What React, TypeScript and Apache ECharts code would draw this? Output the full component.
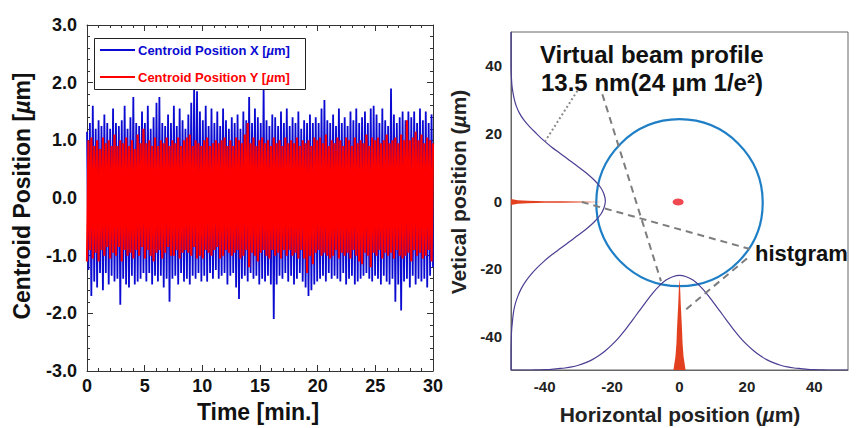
import React, { useEffect, useRef } from "react";
import * as echarts from "echarts";

// ---------- Left chart: centroid position vs time ----------
const TIME_MAX = 30;
const X_VALUES = [
  1.15, -1.25, 1.3, -1.7, 1.6, -1.45, 1.2, -1.55, 1.35, -1.3,
  1.25, -1.6, 1.45, -1.3, 1.3, -1.5, 1.2, -1.35, 1.55, -1.45,
  1.3, -1.4, 1.25, -1.85, 1.35, -1.4, 1.6, -1.5, 1.2, -1.55,
  1.4, -1.35, 1.75, -1.5, 1.3, -1.45, 1.25, -1.4, 1.5, -1.3,
  1.3, -1.45, 1.6, -1.3, 1.2, -1.5, 1.4, -1.35, 1.65, -1.45,
  1.75, -1.35, 1.3, -1.55, 1.25, -1.4, 1.45, -1.8, 1.3, -1.4,
  1.6, -1.35, 1.25, -1.5, 1.55, -1.3, 1.35, -1.45, 1.2, -1.4,
  1.45, -1.5, 1.65, -1.35, 1.9, -1.4, 1.85, -1.3, 1.5, -1.45,
  1.35, -1.35, 1.6, -1.45, 1.25, -1.3, 1.55, -1.4, 1.3, -1.25,
  1.5, -1.4, 1.25, -1.35, 1.55, -1.3, 1.35, -1.5, 1.2, -1.35,
  1.4, -1.3, 1.3, -1.55, 1.45, -1.75, 1.2, -1.4, 1.5, -1.35,
  1.35, -1.45, 1.75, -1.3, 1.3, -1.4, 1.55, -1.35, 1.4, -1.5,
  1.3, -1.4, 1.9, -1.45, 1.35, -1.35, 1.25, -1.5, 1.45, -2.1,
  1.4, -1.5, 1.25, -1.35, 1.5, -1.4, 1.3, -1.3, 1.55, -1.45,
  1.25, -1.35, 1.4, -1.5, 1.3, -1.4, 1.5, -1.3, 1.2, -1.45,
  1.35, -1.55, 1.3, -1.7, 1.45, -1.6, 1.3, -1.5, 1.4, -1.45,
  1.3, -1.4, 1.55, -1.35, 1.7, -1.45, 1.35, -1.3, 1.3, -1.4,
  1.45, -1.35, 1.25, -1.4, 1.55, -1.45, 1.3, -1.3, 1.4, -1.5,
  1.25, -1.4, 1.5, -1.35, 1.35, -1.5, 1.55, -1.45, 1.3, -1.4,
  1.4, -1.35, 1.5, -1.3, 1.3, -1.4, 1.55, -1.45, 1.6, -1.35,
  1.45, -1.4, 1.3, -1.5, 1.55, -1.35, 1.35, -1.45, 1.25, -1.5,
  1.9, -1.4, 1.45, -1.8, 1.3, -1.5, 1.4, -1.95, 1.5, -1.45,
  1.35, -1.4, 1.5, -1.55, 1.4, -1.35, 1.5, -1.5, 1.3, -1.4,
  1.55, -1.45, 1.35, -1.4, 1.5, -1.55, 1.3, -1.35, 1.45, -1.2,
];
const Y_VALUES = [
  -1.1, 1.0, -0.9, 1.05, -1.05, 0.9, -0.95, 1.0, -1.1, 0.85,
  -0.9, 1.05, -1.0, 0.95, -0.85, 1.0, -1.05, 0.9, -0.95, 1.1,
  -1.0, 0.9, -0.85, 1.0, -1.1, 0.95, -0.9, 1.05, -1.0, 0.9,
  -0.95, 1.0, -1.05, 0.85, -0.9, 1.1, -1.0, 0.95, -0.85, 1.2,
  -1.05, 0.95, -0.9, 1.0, -1.0, 0.9, -1.1, 1.05, -0.95, 0.9,
  -0.9, 1.0, -1.05, 0.95, -0.95, 1.05, -0.85, 0.9, -1.0, 1.0,
  -1.0, 0.95, -0.9, 1.05, -1.05, 0.9, -0.95, 1.0, -0.9, 1.05,
  -0.95, 1.1, -1.0, 0.9, -0.85, 1.0, -1.05, 0.95, -1.0, 0.9,
  -1.05, 1.0, -0.9, 1.05, -0.95, 0.9, -1.0, 0.95, -0.9, 1.0,
  -0.85, 0.95, -1.05, 1.0, -1.0, 1.05, -0.9, 0.9, -0.95, 1.0,
  -1.0, 0.9, -0.95, 1.05, -0.9, 1.0, -1.05, 0.95, -1.0, 1.1,
  -0.9, 1.3, -1.2, 0.95, -0.95, 1.05, -1.0, 0.9, -1.1, 1.0,
  -0.95, 1.05, -0.9, 0.95, -1.0, 1.0, -1.05, 0.9, -0.9, 1.05,
  -1.0, 0.95, -0.95, 1.0, -1.05, 0.9, -0.9, 1.05, -1.0, 0.95,
  -0.9, 1.0, -1.0, 0.95, -0.95, 1.05, -1.05, 0.9, -0.9, 1.0,
  -1.05, 0.95, -1.3, 1.0, -1.0, 0.9, -1.15, 1.05, -0.95, 1.0,
  -0.9, 1.05, -1.0, 0.95, -0.95, 1.1, -1.0, 0.9, -1.05, 1.0,
  -1.0, 0.95, -0.9, 1.05, -1.05, 1.0, -0.95, 0.9, -1.0, 1.05,
  -0.95, 1.0, -1.05, 0.9, -0.9, 1.05, -1.0, 0.95, -1.1, 1.0,
  -1.15, 0.95, -0.95, 1.1, -1.0, 0.9, -1.2, 1.05, -0.95, 1.0,
  -1.0, 1.05, -0.9, 0.95, -1.05, 1.0, -0.95, 1.1, -1.0, 0.95,
  -0.95, 1.0, -1.05, 1.05, -0.9, 0.95, -1.0, 1.1, -1.05, 1.0,
  -1.0, 1.35, -0.95, 1.0, -1.1, 1.05, -0.9, 1.15, -1.0, 1.0,
  -0.95, 1.1, -1.05, 0.95, -1.0, 1.05, -0.9, 1.0, -1.1, 0.95,
];

// ---------- Right chart: virtual beam profile ----------
const PROFILE_POS = [
  -50, -48, -46, -44, -42, -40, -38, -36, -34, -32, -30, -28, -26, -24, -22, -20, -18,
  -16, -14, -12, -10, -8, -6, -4, -2, 0, 2, 4, 6, 8, 10, 12, 14, 16, 18, 20, 22, 24, 26,
  28, 30, 32, 34, 36, 38, 40, 42, 44, 46, 48, 50,
];
// horizontal position of the vertical-profile curve at each vertical position
const LEFT_PROFILE = [
  -50, -50, -50, -50, -49.95, -49.9, -49.8, -49.6, -49.4, -49.1, -48.6, -47.9, -47.0,
  -45.8, -44.3, -42.5, -40.4, -38.0, -35.3, -32.6, -29.9, -27.3, -25.1, -23.4, -22.4,
  -22.0, -22.4, -23.4, -25.1, -27.3, -29.9, -32.6, -35.3, -38.0, -40.4, -42.5, -44.5,
  -46.2, -47.5, -48.4, -49.0, -49.4, -49.7, -49.85, -49.95, -50, -50, -50, -50, -50, -50,
];
// vertical position of the horizontal-profile curve at each horizontal position
const BOTTOM_PROFILE = [
  -50, -50, -50, -50, -49.95, -49.9, -49.8, -49.6, -49.4, -49.1, -48.6, -47.9, -47.0,
  -45.8, -44.3, -42.5, -40.4, -38.0, -35.3, -32.6, -29.9, -27.3, -25.1, -23.4, -22.4,
  -22.0, -22.4, -23.4, -25.1, -27.3, -29.9, -32.6, -35.3, -38.0, -40.4, -42.5, -44.3,
  -45.8, -47.0, -47.9, -48.6, -49.1, -49.4, -49.6, -49.8, -49.9, -49.95, -50, -50, -50, -50,
];
// histogram spikes: position along the spike and its half width
const H_SPIKE_POS = [-50, -48, -45, -40, -35, -30, -26, -23];
const H_SPIKE_HALF = [0.9, 0.55, 0.35, 0.25, 0.2, 0.15, 0.1, 0];
const H_SPIKE_CENTER = -0.3;
const V_SPIKE_POS = [-50, -46, -42, -38, -34, -30, -26, -23];
const V_SPIKE_HALF = [1.8, 1.2, 0.9, 0.75, 0.55, 0.35, 0.2, 0];
const V_SPIKE_CENTER = 0;
const BEAM_CIRCLE = [[0, -0.5, 24.7]];
const CENTROID_SPOT = [[-0.4, -0.3]];
const DOTTED_LEADER = [[-30.3, 32.6], [-39.8, 17.8]];
const DASHED_LEADER_A = [[-22.9, 31.6], [-5.5, -23.7]];
const DASHED_LEADER_B = [[-29, -0.3], [20.9, -14.2]];
const DASHED_LEADER_C = [[2, -32], [20.9, -16.3]];

const SANS = "'Liberation Sans', Arial, sans-serif";

export default function App() {
  const ref = useRef<HTMLDivElement>(null);
  useEffect(() => {
    if (!ref.current) return;
    const chart = echarts.init(ref.current, null, { renderer: "svg" });
    const n = X_VALUES.length;
    const times = X_VALUES.map((_, i) => (i * TIME_MAX) / (n - 1));
    const leftAxisLine = { onZero: false, lineStyle: { color: "#333", width: 1 } };
    const rightAxisLine = { onZero: false, lineStyle: { color: "#666", width: 1 } };
    const tickCommon = { show: true, inside: true, length: 6, lineStyle: { color: "#333" } };
    const minorCommon = { show: true, splitNumber: 5, length: 3, lineStyle: { color: "#333" } };
    const rightLabel = {
      margin: 9, fontFamily: SANS, fontWeight: "bold", fontSize: 15, color: "#222",
      formatter: (v: number) => (v % 20 === 0 && Math.abs(v) < 50 ? String(v) : ""),
    };
    const spikeRender = (pos: number[], half: number[], center: number, vertical: boolean, color: string) =>
      (params: any, api: any) => {
        if (params.dataIndex !== 0) return null;
        const pts: number[][] = [];
        for (let i = 0; i < pos.length; i++) {
          pts.push(api.coord(vertical ? [center + half[i], pos[i]] : [pos[i], center + half[i]]));
        }
        for (let i = pos.length - 1; i >= 0; i--) {
          pts.push(api.coord(vertical ? [center - half[i], pos[i]] : [pos[i], center - half[i]]));
        }
        return { type: "polygon", shape: { points: pts }, style: { fill: color } };
      };
    const leader = (data: number[][], type: any, color: string) => ({
      type: "line",
      xAxisIndex: 2,
      yAxisIndex: 2,
      data,
      showSymbol: false,
      symbol: "none",
      silent: true,
      lineStyle: { color, width: 2, type },
      z: 5,
    });
    chart.setOption({
      animation: false,
      backgroundColor: "#fff",
      grid: [
        { left: 87, top: 25, width: 346, height: 346 },
        { left: 511, top: 32, width: 337, height: 338, show: true, borderColor: "#666", borderWidth: 1, backgroundColor: "transparent" },
      ],
      xAxis: [
        {
          type: "value", gridIndex: 0, min: 0, max: 30, interval: 5,
          axisLine: leftAxisLine, axisTick: tickCommon, minorTick: minorCommon, splitLine: { show: false },
          axisLabel: { margin: 6, fontFamily: SANS, fontWeight: "bold", fontSize: 18, color: "#111" },
        },
        {
          type: "value", gridIndex: 0, position: "top", min: 0, max: 30, interval: 5,
          axisLine: leftAxisLine, axisTick: tickCommon, minorTick: minorCommon, splitLine: { show: false },
          axisLabel: { show: false },
        },
        {
          type: "value", gridIndex: 1, min: -50, max: 50, interval: 10,
          axisLine: rightAxisLine, axisTick: { show: false }, splitLine: { show: false },
          axisLabel: rightLabel,
        },
      ],
      yAxis: [
        {
          type: "value", gridIndex: 0, min: -3, max: 3, interval: 1,
          axisLine: leftAxisLine, axisTick: tickCommon, minorTick: minorCommon, splitLine: { show: false },
          axisLabel: { margin: 10, fontFamily: SANS, fontWeight: "bold", fontSize: 18, color: "#111", formatter: (v: number) => v.toFixed(1) },
        },
        {
          type: "value", gridIndex: 0, position: "right", min: -3, max: 3, interval: 1,
          axisLine: leftAxisLine, axisTick: tickCommon, minorTick: minorCommon, splitLine: { show: false },
          axisLabel: { show: false },
        },
        {
          type: "value", gridIndex: 1, min: -50, max: 50, interval: 10,
          axisLine: rightAxisLine, axisTick: { show: false }, splitLine: { show: false },
          axisLabel: rightLabel,
        },
      ],
      series: [
        {
          name: "Centroid Position X", type: "line", xAxisIndex: 0, yAxisIndex: 0,
          data: times.map((t, i) => [t, X_VALUES[i]]), showSymbol: false, symbol: "none",
          lineStyle: { color: "#0a0ad2", width: 1.8 },
        },
        {
          name: "Centroid Position Y", type: "line", xAxisIndex: 0, yAxisIndex: 0,
          data: times.map((t, i) => [t, Y_VALUES[i]]), showSymbol: false, symbol: "none",
          lineStyle: { color: "#ff0000", width: 2.2 },
        },
        {
          type: "custom", xAxisIndex: 2, yAxisIndex: 2, clip: true,
          data: BEAM_CIRCLE,
          renderItem: (params: any, api: any) => {
            const c = api.coord([api.value(0), api.value(1)]);
            const s = api.size([api.value(2), api.value(2)]);
            return { type: "ellipse", shape: { cx: c[0], cy: c[1], rx: s[0], ry: s[1] }, style: { fill: "none", stroke: "#1f7fc6", lineWidth: 2.2 } };
          },
          z: 3,
        },
        {
          type: "line", xAxisIndex: 2, yAxisIndex: 2, symbol: "none", showSymbol: false,
          data: PROFILE_POS.map((p, i) => [LEFT_PROFILE[i], p]),
          smooth: 0.3, lineStyle: { color: "#4a3f92", width: 1.2 }, z: 4,
        },
        {
          type: "line", xAxisIndex: 2, yAxisIndex: 2, symbol: "none", showSymbol: false,
          data: PROFILE_POS.map((p, i) => [p, BOTTOM_PROFILE[i]]),
          smooth: 0.3, lineStyle: { color: "#4a3f92", width: 1.2 }, z: 4,
        },
        {
          type: "custom", xAxisIndex: 2, yAxisIndex: 2, clip: true,
          data: H_SPIKE_POS.map((p, i) => [p, H_SPIKE_HALF[i]]),
          renderItem: spikeRender(H_SPIKE_POS, H_SPIKE_HALF, H_SPIKE_CENTER, false, "#e3401f"),
          z: 4,
        },
        {
          type: "custom", xAxisIndex: 2, yAxisIndex: 2, clip: true,
          data: V_SPIKE_POS.map((p, i) => [p, V_SPIKE_HALF[i]]),
          renderItem: spikeRender(V_SPIKE_POS, V_SPIKE_HALF, V_SPIKE_CENTER, true, "#e3401f"),
          z: 4,
        },
        {
          type: "scatter", xAxisIndex: 2, yAxisIndex: 2, data: CENTROID_SPOT,
          symbol: "circle", symbolSize: [11, 7], itemStyle: { color: "#ee1c25" }, z: 6,
        },
        leader(DOTTED_LEADER, [2, 2.5], "#8a8a8a"),
        leader(DASHED_LEADER_A, [7, 5], "#7d7d7d"),
        leader(DASHED_LEADER_B, [7, 5], "#7d7d7d"),
        leader(DASHED_LEADER_C, [7, 5], "#7d7d7d"),
      ],
      graphic: [
        // legend
        { type: "rect", shape: { x: 94.5, y: 38.5, width: 211, height: 51 }, style: { fill: "#fff", stroke: "#222", lineWidth: 1 }, z: 10 },
        { type: "line", shape: { x1: 100, y1: 50, x2: 135, y2: 50 }, style: { stroke: "#0a0ad2", lineWidth: 2 }, z: 11 },
        { type: "line", shape: { x1: 100, y1: 77, x2: 135, y2: 77 }, style: { stroke: "#ff0000", lineWidth: 2 }, z: 11 },
        {
          type: "text", x: 138, y: 50, z: 11,
          style: {
            text: "Centroid Position X [{it|µ}m]", fill: "#0a0ad2", font: `bold 13px ${SANS}`, verticalAlign: "middle",
            rich: { it: { fontStyle: "italic", fontWeight: "bold", fontSize: 13, fontFamily: SANS, fill: "#0a0ad2" } },
          },
        },
        {
          type: "text", x: 138, y: 77, z: 11,
          style: {
            text: "Centroid Position Y [{it|µ}m]", fill: "#ff0000", font: `bold 13px ${SANS}`, verticalAlign: "middle",
            rich: { it: { fontStyle: "italic", fontWeight: "bold", fontSize: 13, fontFamily: SANS, fill: "#ff0000" } },
          },
        },
        // left axis titles
        {
          type: "text", x: 22, y: 196, rotation: Math.PI / 2,
          style: {
            text: "Centroid Position [{it|µ}m]", fill: "#111", font: `bold 23px ${SANS}`, align: "center", verticalAlign: "middle",
            rich: { it: { fontStyle: "italic", fontWeight: "bold", fontSize: 23, fontFamily: SANS, fill: "#111" } },
          },
        },
        { type: "text", x: 258, y: 412, style: { text: "Time [min.]", fill: "#111", font: `bold 23px ${SANS}`, align: "center", verticalAlign: "middle" } },
        // right axis titles
        {
          type: "text", x: 680, y: 414,
          style: {
            text: "Horizontal position ({it|µ}m)", fill: "#222", font: `bold 21px ${SANS}`, align: "center", verticalAlign: "middle",
            rich: { it: { fontStyle: "italic", fontWeight: "bold", fontSize: 21, fontFamily: SANS, fill: "#222" } },
          },
        },
        {
          type: "text", x: 458, y: 192, rotation: Math.PI / 2,
          style: {
            text: "Vetical position ({it|µ}m)", fill: "#222", font: `bold 21px ${SANS}`, align: "center", verticalAlign: "middle",
            rich: { it: { fontStyle: "italic", fontWeight: "bold", fontSize: 21, fontFamily: SANS, fill: "#222" } },
          },
        },
        // annotations
        { type: "text", x: 540, y: 54, z: 12, style: { text: "Virtual beam profile", fill: "#111", font: `bold 24px ${SANS}`, lineHeight: 25, verticalAlign: "middle" } },
        { type: "text", x: 541, y: 82, z: 12, style: { text: "13.5 nm(24 µm 1/e²)", fill: "#111", font: `bold 24px ${SANS}`, lineHeight: 25, verticalAlign: "middle" } },
        { type: "text", x: 755, y: 253, z: 12, style: { text: "histgram", fill: "#111", font: `bold 22px ${SANS}`, lineHeight: 23, verticalAlign: "middle" } },
      ],
    });
    return () => chart.dispose();
  }, []);
  return <div ref={ref} style={{ position: "absolute", left: 0, top: 0, width: 857, height: 428 }} />;
}
